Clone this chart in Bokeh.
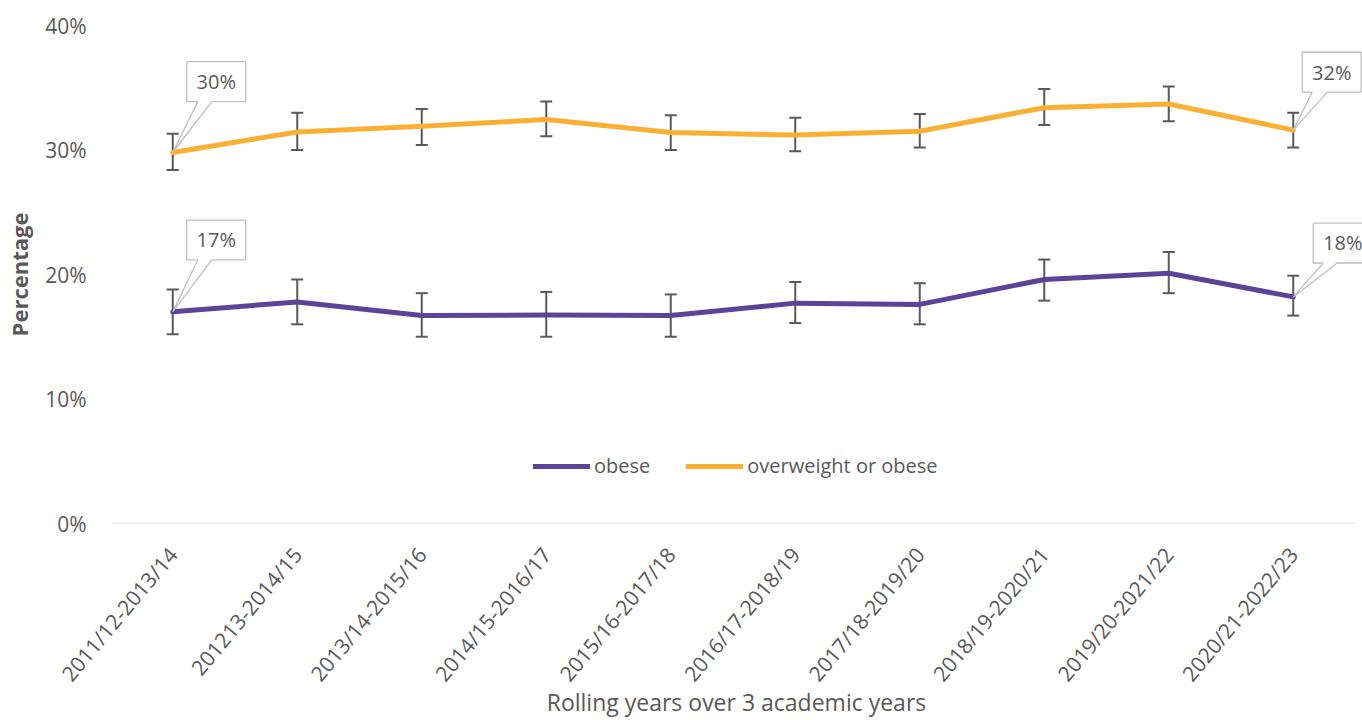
import math
from bokeh.plotting import figure
from bokeh.models import (Range1d, FixedTicker, PrintfTickFormatter, Whisker, TeeHead,
                          ColumnDataSource, Legend, LegendItem, Label)
from bokeh.embed import file_html
from bokeh.resources import INLINE

# ---------------- data ----------------
categories = ["2011/12-2013/14", "201213-2014/15", "2013/14-2015/16", "2014/15-2016/17",
              "2015/16-2017/18", "2016/17-2018/19", "2017/18-2019/20", "2018/19-2020/21",
              "2019/20-2021/22", "2020/21-2022/23"]
obese = [17.0, 17.8, 16.7, 16.75, 16.7, 17.7, 17.6, 19.6, 20.1, 18.2]
obese_lower = [15.2, 16.0, 15.0, 15.0, 15.0, 16.1, 16.0, 17.9, 18.5, 16.7]
obese_upper = [18.8, 19.6, 18.5, 18.6, 18.4, 19.4, 19.3, 21.2, 21.8, 19.9]
overweight = [29.8, 31.45, 31.9, 32.45, 31.4, 31.2, 31.5, 33.4, 33.7, 31.6]
overweight_lower = [28.4, 30.0, 30.4, 31.1, 30.0, 29.9, 30.2, 32.0, 32.3, 30.2]
overweight_upper = [31.3, 33.0, 33.3, 33.9, 32.8, 32.6, 32.9, 34.9, 35.1, 33.0]
series_names = ["obese", "overweight or obese"]
y_ticks = [0, 10, 20, 30, 40]
x_title = "Rolling years over 3 academic years"
y_title = "Percentage"

# ---------------- style ----------------
FONT = "Open Sans"
GREY = "#595959"
PURPLE = "#5B4397"
ORANGE = "#FBB034"
BOX_LINE = "#BFBFBF"

W, H = 1362, 720
LEFT, RIGHT, TOP, BOTTOM = 110, 0, 25, 196
CAT_PX = 124.5            # pixel width of one category slot
frame_w = W - LEFT - RIGHT
frame_h = H - TOP - BOTTOM

n = len(categories)
xs = list(range(n))
x_range = Range1d(-0.5, -0.5 + frame_w / CAT_PX)
y_range = Range1d(y_ticks[0], y_ticks[-1])
px_x = 1.0 / CAT_PX
px_y = (y_range.end - y_range.start) / frame_h

p = figure(width=W, height=H, x_range=x_range, y_range=y_range,
           output_backend="svg", toolbar_location=None,
           min_border_left=LEFT, min_border_right=RIGHT,
           min_border_top=TOP, min_border_bottom=BOTTOM)
p.grid.visible = False
p.outline_line_color = None
p.background_fill_color = "white"
p.border_fill_color = "white"

# category axis baseline (spans the category slots only)
p.segment(x0=[xs[0] - 0.5], x1=[xs[-1] + 0.5], y0=[y_ticks[0]], y1=[y_ticks[0]],
          line_color="#D9D9D9", line_width=1.5)

# error bars
for lo, hi in [(obese_lower, obese_upper), (overweight_lower, overweight_upper)]:
    src = ColumnDataSource(dict(x=xs, lower=lo, upper=hi))
    w = Whisker(source=src, base="x", lower="lower", upper="upper", dimension="height",
                line_color=GREY, line_width=2,
                upper_head=TeeHead(size=12, line_color=GREY, line_width=2),
                lower_head=TeeHead(size=12, line_color=GREY, line_width=2))
    p.add_layout(w)

r_ob = p.line(xs, obese, line_color=PURPLE, line_width=5, line_join="round", line_cap="round")
r_ow = p.line(xs, overweight, line_color=ORANGE, line_width=5, line_join="round", line_cap="round")


def callout(i, v, a, b, p1, p2, bw=59, bh=40):
    # box offsets (a, b) and pointer base (p1, p2) are screen pixels from the data point
    x0, y0 = xs[i], v
    pts = [(0, 0), (p1, b), (a, b), (a, b + bh), (a + bw, b + bh), (a + bw, b), (p2, b), (0, 0)]
    px = [x0 + dx * px_x for dx, dy in pts]
    py = [y0 + dy * px_y for dx, dy in pts]
    p.patch(px, py, fill_color="white", line_color=BOX_LINE, line_width=1.3)
    p.add_layout(Label(x=x0, y=y0, x_offset=a + bw / 2, y_offset=b + bh / 2,
                       text=f"{round(v)}%", text_align="center", text_baseline="middle",
                       text_font=FONT, text_font_size="20px", text_color=GREY))


callout(0, overweight[0], 14, 51, 25, 39)
callout(n - 1, overweight[-1], 9, 38, 19, 34)
callout(0, obese[0], 14, 52, 25, 39)
callout(n - 1, obese[-1], 20, 34, 30, 44)

# y axis
p.yaxis.ticker = FixedTicker(ticks=y_ticks)
p.yaxis.formatter = PrintfTickFormatter(format="%d%%")
p.yaxis.axis_line_color = None
p.yaxis.major_tick_line_color = None
p.yaxis.minor_tick_line_color = None
p.yaxis.major_label_text_font = FONT
p.yaxis.major_label_text_font_size = "21px"
p.yaxis.major_label_text_color = GREY
p.yaxis.major_label_standoff = 18
p.yaxis.axis_label = y_title
p.yaxis.axis_label_text_font = FONT
p.yaxis.axis_label_text_font_style = "bold"
p.yaxis.axis_label_text_font_size = "22px"
p.yaxis.axis_label_text_color = GREY
p.yaxis.axis_label_standoff = 8

# x axis
p.xaxis.ticker = FixedTicker(ticks=xs)
p.xaxis.major_label_overrides = {i: c for i, c in enumerate(categories)}
p.xaxis.major_label_orientation = math.radians(50)
p.xaxis.axis_line_color = None
p.xaxis.major_tick_line_color = None
p.xaxis.minor_tick_line_color = None
p.xaxis.major_label_text_font = FONT
p.xaxis.major_label_text_font_size = "21px"
p.xaxis.major_label_text_color = GREY
p.xaxis.major_label_standoff = 21
p.xaxis.axis_label = x_title
p.xaxis.axis_label_text_font = FONT
p.xaxis.axis_label_text_font_style = "normal"
p.xaxis.axis_label_text_font_size = "23px"
p.xaxis.axis_label_text_color = GREY
p.xaxis.axis_label_standoff = -13

legend = Legend(items=[LegendItem(label=series_names[0], renderers=[r_ob]),
                       LegendItem(label=series_names[1], renderers=[r_ow])],
                orientation="horizontal", location=(423, 44),
                glyph_width=57, glyph_height=24, label_height=24, label_standoff=4,
                spacing=36, padding=0, margin=0,
                label_text_font=FONT, label_text_font_size="20px", label_text_color=GREY,
                border_line_alpha=0, background_fill_alpha=0)
p.add_layout(legend, "center")

open("out.html", "w").write(file_html(p, INLINE))
